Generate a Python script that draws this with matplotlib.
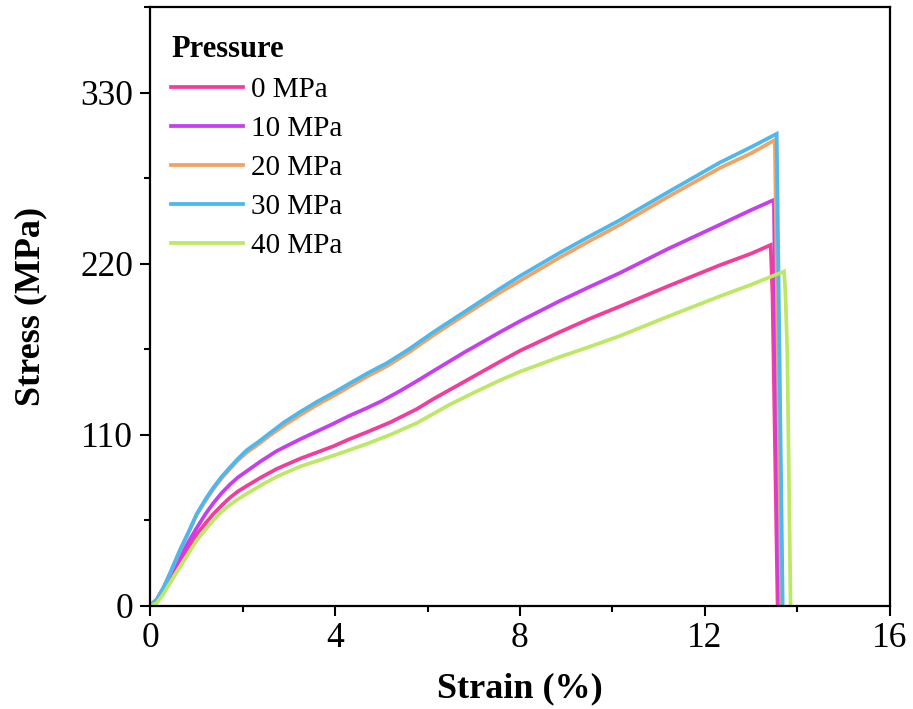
import matplotlib.pyplot as plt
from matplotlib.ticker import MultipleLocator

plt.rcParams['font.family'] = ['Liberation Serif', 'DejaVu Serif']

# Data
labels = ['0 MPa', '10 MPa', '20 MPa', '30 MPa', '40 MPa']
colors = ['#f23d9c', '#c73df0', '#f0a365', '#4cb8f0', '#bde866']

strain_0 = [0, 0.15, 0.3, 0.45, 0.65, 0.85, 1.01, 1.2, 1.37, 1.55, 1.73, 1.9, 2.09, 2.4, 2.74,
            3.24, 3.6, 3.96, 4.3, 4.68, 5.2, 5.77, 6.13, 6.49, 7.0, 7.57, 8.0, 8.86, 9.5,
            10.16, 11.2, 12.32, 13.0, 13.42, 13.46, 13.57]
stress_0 = [0, 4, 11.5, 20, 29.5, 38.5, 46, 53, 59, 64.5, 69.5, 73.5, 77, 82.5, 88,
            94.5, 98.5, 102.5, 107, 111.5, 118, 126.5, 133, 139, 147.5, 157, 164, 176, 184.5,
            192.5, 205.5, 219, 226.5, 232, 200, 0]

strain_10 = [0, 0.15, 0.3, 0.45, 0.65, 0.85, 1.01, 1.2, 1.37, 1.55, 1.73, 1.9, 2.09, 2.4, 2.74,
             3.24, 3.6, 3.96, 4.3, 4.68, 5.0, 5.4, 5.8, 6.13, 6.8, 7.57, 8.0, 8.86, 9.5,
             10.16, 11.2, 12.32, 13.0, 13.49, 13.6]
stress_10 = [0, 4, 12, 21, 31.5, 42, 50, 59, 66, 72.5, 78, 82.5, 86.5, 93, 99.5,
             107, 112, 117, 122, 127, 131.5, 138, 145, 151, 163, 176, 183, 196, 205,
             214, 229.5, 245, 254.5, 261, 0]

strain_20 = [0, 0.15, 0.3, 0.45, 0.65, 0.85, 1.01, 1.2, 1.37, 1.55, 1.73, 1.9, 2.09, 2.35, 2.59,
             2.9, 3.24, 3.6, 4.0, 4.32, 4.7, 5.12, 5.6, 6.13, 6.8, 7.57, 8.0, 8.86, 9.5,
             10.16, 11.2, 12.32, 13.0, 13.51, 13.65]
stress_20 = [0, 4, 12, 22, 35.5, 48, 58.5, 67.5, 75, 82, 88, 93.5, 98.5, 104, 109.5,
             116, 122.5, 129, 135.5, 141, 147.5, 154, 163, 174, 187, 201.5, 209, 224, 234.5,
             245, 263, 281.5, 291, 299.5, 0]

strain_30 = [0, 0.15, 0.3, 0.45, 0.65, 0.85, 1.01, 1.2, 1.37, 1.55, 1.73, 1.9, 2.09, 2.35, 2.59,
             2.9, 3.24, 3.6, 4.0, 4.32, 4.7, 5.12, 5.6, 6.13, 6.8, 7.57, 8.0, 8.86, 9.5,
             10.16, 11.2, 12.32, 13.0, 13.55, 13.68]
stress_30 = [0, 4, 12, 22, 36, 48.5, 59, 68.5, 76, 83, 89, 94.5, 100, 105.5, 111,
             118, 124.5, 131, 137.5, 143, 149.5, 156, 165, 176, 189, 204, 212, 227, 237.5,
             248, 266, 285, 295, 303.5, 0]

strain_40 = [0, 0.14, 0.29, 0.45, 0.65, 0.85, 1.01, 1.2, 1.37, 1.55, 1.73, 1.9, 2.09, 2.4, 2.74,
             3.24, 3.6, 3.96, 4.3, 4.68, 5.2, 5.77, 6.13, 6.49, 7.0, 7.57, 8.0, 8.86, 9.5,
             10.16, 11.2, 12.32, 13.0, 13.71, 13.74, 13.78, 13.85]
stress_40 = [0, 1.5, 7.5, 15.5, 25, 34.5, 42, 49, 55, 60.5, 65, 68.5, 72, 77.5, 83,
             89.5, 93, 96.5, 100, 104, 110, 117.5, 123.5, 129.5, 137, 145, 150.5, 160, 166.5,
             173.5, 186, 199, 206.5, 215, 200, 162, 0]

strains = [strain_0, strain_10, strain_20, strain_30, strain_40]
stresses = [stress_0, stress_10, stress_20, stress_30, stress_40]

fig = plt.figure(figsize=(9.13, 7.09), dpi=100)
ax = fig.add_axes([0.1643, 0.1457, 0.8105, 0.8443])

for x, y, c, lab in zip(strains, stresses, colors, labels):
    ax.plot(x, y, color=c, lw=2.7, label=lab, solid_joinstyle='miter')

ax.set_xlim(0, 16)
ax.set_ylim(0, 385)
ax.xaxis.set_major_locator(MultipleLocator(4))
ax.xaxis.set_minor_locator(MultipleLocator(2))
ax.yaxis.set_major_locator(MultipleLocator(110))
ax.yaxis.set_minor_locator(MultipleLocator(55))

for s in ax.spines.values():
    s.set_linewidth(1.6)
ax.tick_params(which='major', direction='out', length=7, width=1.5, labelsize=25.5, pad=5)
ax.tick_params(which='minor', direction='out', length=4, width=1.5)

ax.set_xlabel('Strain (%)', fontsize=26, fontweight='bold', labelpad=12)
ax.set_ylabel('Stress (MPa)', fontsize=26, fontweight='bold', labelpad=24)

leg = ax.legend(loc='upper left', bbox_to_anchor=(0.005, 0.982), frameon=False,
                fontsize=21, title='Pressure', alignment='left',
                title_fontproperties={'weight': 'bold', 'size': 22},
                handlelength=2.45, handletextpad=0.3, labelspacing=0.43,
                borderaxespad=0.2)

plt.savefig('out.png', dpi=100)
